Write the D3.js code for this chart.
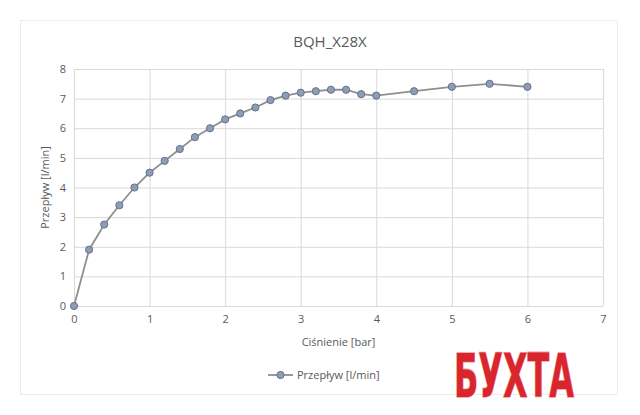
<!DOCTYPE html>
<html>
<head>
<meta charset="utf-8">
<script src="https://cdn.jsdelivr.net/npm/d3@7"></script>
<style>
  body { margin: 0; background: #fff; }
  text { font-family: "Open Sans", "Liberation Sans", sans-serif; }
</style>
</head>
<body>
<div id="chart"></div>
<script>
// pressure [bar] and flow [l/min]
var pressure = [0, 0.2, 0.4, 0.6, 0.8, 1, 1.2, 1.4, 1.6, 1.8, 2, 2.2, 2.4, 2.6, 2.8, 3, 3.2, 3.4, 3.6, 3.8, 4, 4.5, 5, 5.5, 6];
var flow = [0, 1.9, 2.75, 3.4, 4.0, 4.5, 4.9, 5.3, 5.7, 6.0, 6.3, 6.5, 6.7, 6.95, 7.1, 7.2, 7.25, 7.3, 7.3, 7.15, 7.1, 7.25, 7.4, 7.5, 7.4];
var xTicks = [0, 1, 2, 3, 4, 5, 6, 7];
var yTicks = [0, 1, 2, 3, 4, 5, 6, 7, 8];
var title = "BQH_X28X";
var xTitle = "Ciśnienie [bar]";
var yTitle = "Przepływ [l/min]";
var seriesName = "Przepływ [l/min]";
var logoText = "БУХТА";

var W = 640, H = 415;
var margin = {top: 69, right: 37, bottom: 109, left: 74},
    width = W - margin.left - margin.right,
    height = H - margin.top - margin.bottom;

var data = pressure.map(function(p, i) { return {x: p, y: flow[i]}; });

var svg = d3.select("#chart").append("svg")
    .attr("width", W)
    .attr("height", H);

// outer chart border
svg.append("rect")
    .attr("x", 20.5).attr("y", 20.5)
    .attr("width", 597).attr("height", 374)
    .attr("fill", "none")
    .attr("stroke", "#ececec");

var g = svg.append("g")
    .attr("transform", "translate(" + margin.left + "," + margin.top + ")");

var x = d3.scaleLinear().domain([0, 7]).range([0, width]);
var y = d3.scaleLinear().domain([0, 8]).range([height, 0]);

// gridlines
g.append("g")
    .attr("class", "grid")
    .attr("transform", "translate(0," + height + ")")
    .call(d3.axisBottom(x).tickValues(xTicks).tickSize(-height).tickFormat(""))
    .call(function(s) { s.select(".domain").remove(); });
g.append("g")
    .attr("class", "grid")
    .call(d3.axisLeft(y).tickValues(yTicks).tickSize(-width).tickFormat(""))
    .call(function(s) { s.select(".domain").remove(); });
g.selectAll(".grid line").attr("stroke", "#d9d9d9").attr("stroke-width", 1);

// axis labels
var xAxis = g.append("g")
    .attr("transform", "translate(0," + height + ")")
    .call(d3.axisBottom(x).tickValues(xTicks).tickSize(0).tickPadding(9).tickFormat(d3.format("d")));
var yAxis = g.append("g")
    .call(d3.axisLeft(y).tickValues(yTicks).tickSize(0).tickPadding(8).tickFormat(d3.format("d")));
[xAxis, yAxis].forEach(function(a) {
  a.select(".domain").remove();
  a.selectAll("text").attr("fill", "#595959").style("font-size", "11px");
});

// line and markers
var line = d3.line()
    .x(function(d) { return x(d.x); })
    .y(function(d) { return y(d.y); });

g.append("path")
    .datum(data)
    .attr("fill", "none")
    .attr("stroke", "#8f8f8f")
    .attr("stroke-width", 1.8)
    .attr("d", line);

g.selectAll(".dot")
    .data(data)
    .enter().append("circle")
    .attr("class", "dot")
    .attr("cx", function(d) { return x(d.x); })
    .attr("cy", function(d) { return y(d.y); })
    .attr("r", 3.6)
    .attr("fill", "#8e9db4")
    .attr("stroke", "#64728a")
    .attr("stroke-width", 1);

// titles
svg.append("text")
    .attr("x", 330).attr("y", 47)
    .attr("text-anchor", "middle")
    .attr("fill", "#595959")
    .style("font-size", "15px")
    .text(title);

svg.append("text")
    .attr("x", margin.left + width / 2).attr("y", 346)
    .attr("text-anchor", "middle")
    .attr("fill", "#595959")
    .style("font-size", "11px")
    .text(xTitle);

svg.append("text")
    .attr("transform", "translate(49," + (margin.top + height / 2) + ") rotate(-90)")
    .attr("text-anchor", "middle")
    .attr("fill", "#595959")
    .style("font-size", "11px")
    .text(yTitle);

// legend
var lg = svg.append("g").attr("transform", "translate(268,375)");
lg.append("line")
    .attr("x1", 0).attr("x2", 25)
    .attr("stroke", "#8f8f8f").attr("stroke-width", 1.8);
lg.append("circle")
    .attr("cx", 12.5).attr("r", 3.6)
    .attr("fill", "#8e9db4").attr("stroke", "#64728a");
lg.append("text")
    .attr("x", 29).attr("dy", "0.35em")
    .attr("fill", "#595959")
    .style("font-size", "11px")
    .text(seriesName);

// watermark logo
svg.append("text")
    .attr("transform", "translate(454,397) scale(1,1.5)")
    .attr("textLength", 120)
    .attr("lengthAdjust", "spacingAndGlyphs")
    .attr("fill", "#d9262c")
    .attr("stroke", "#f2a0a3")
    .attr("stroke-width", 1)
    .attr("paint-order", "stroke")
    .style("font-family", "'DejaVu Sans Condensed', 'DejaVu Sans', sans-serif")
    .style("font-weight", "bold")
    .style("font-size", "40px")
    .text(logoText);
</script>
</body>
</html>
